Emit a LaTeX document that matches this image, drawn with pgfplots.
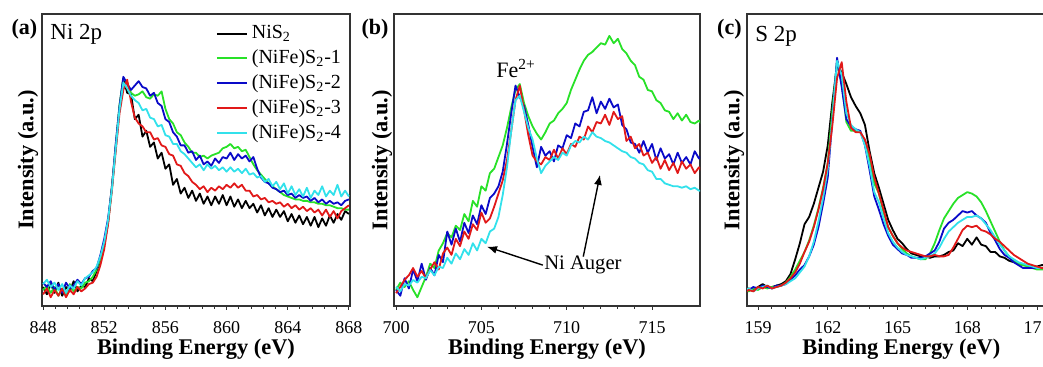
\documentclass[border=0pt]{standalone}
\usepackage{fontspec}
\setmainfont{Liberation Serif}
\usepackage{pgfplots}
\pgfplotsset{compat=1.18}
\usepackage{pgfplotstable}
\usetikzlibrary{arrows.meta}

\definecolor{cK}{RGB}{0,0,0}
\definecolor{cG}{RGB}{40,225,40}
\definecolor{cB}{RGB}{10,10,200}
\definecolor{cR}{RGB}{225,25,25}
\definecolor{cC}{RGB}{50,225,235}

% Panel (a): Ni 2p
\pgfplotstableread{
x k g b r c
848.00 6.5 5.5 8.0 4.0 7.5
848.25 4.0 7.0 6.5 6.0 9.0
848.50 7.5 4.5 8.5 3.0 6.5
848.75 4.5 6.5 5.5 5.5 8.0
849.00 8.0 3.5 7.5 3.5 5.5
849.25 3.5 6.0 4.5 6.0 7.5
849.50 6.5 4.0 8.0 3.0 4.5
849.75 5.0 7.5 6.0 5.5 7.0
850.00 8.5 5.0 7.0 4.0 6.0
850.25 5.0 6.5 9.0 6.5 8.5
850.50 7.0 6.0 7.5 5.0 7.0
850.75 6.5 8.0 9.5 6.0 9.5
851.00 9.5 8.5 10.0 7.5 10.5
851.25 8.5 10.0 12.0 8.0 11.5
851.50 12.0 12.5 13.0 10.0 13.5
851.75 15.5 16.0 17.5 14.0 17.0
852.00 21.0 21.5 23.0 19.5 22.0
852.25 28.5 29.0 30.0 28.0 29.5
852.50 41.0 40.0 40.5 39.5 40.0
852.75 54.0 55.0 55.5 53.0 54.0
853.00 68.0 69.0 68.5 66.0 67.5
853.25 78.0 78.0 78.5 74.0 76.5
853.50 73.0 76.5 76.0 77.5 74.5
853.75 72.5 73.0 74.0 70.0 72.0
854.00 64.0 72.0 75.5 64.5 70.5
854.25 65.5 72.5 77.0 62.5 69.5
854.50 58.0 73.5 75.0 61.5 67.0
854.75 60.0 71.5 74.5 59.5 67.5
855.00 54.5 71.0 72.0 59.5 64.5
855.25 56.0 72.5 73.0 57.0 64.0
855.50 50.5 72.0 69.5 57.5 61.5
855.75 52.5 73.5 68.5 55.0 62.0
856.00 47.0 67.5 64.0 54.5 58.5
856.25 48.5 64.0 63.0 52.0 58.0
856.50 41.5 62.5 59.5 51.5 55.5
856.75 43.5 59.5 58.0 48.5 55.5
857.00 38.5 58.5 55.0 48.0 53.0
857.25 40.5 56.0 55.0 45.5 52.0
857.50 37.0 54.5 52.5 44.5 50.5
857.75 39.5 52.5 53.0 42.5 49.0
858.00 36.0 52.5 50.0 41.5 47.5
858.25 38.5 51.0 51.5 40.0 48.5
858.50 35.0 51.5 48.5 41.0 46.5
858.75 37.5 50.5 49.5 39.0 48.5
859.00 34.5 51.5 48.0 40.5 47.0
859.25 37.5 52.0 50.5 39.5 48.0
859.50 35.0 52.5 49.0 41.0 46.5
859.75 38.0 54.0 51.0 40.0 47.5
860.00 34.5 54.5 50.5 41.5 46.0
860.25 37.5 55.5 52.5 40.5 47.5
860.50 34.0 54.0 50.0 42.0 46.0
860.75 36.5 54.5 52.0 40.5 47.0
861.00 33.5 53.0 50.5 41.5 45.5
861.25 36.0 53.5 51.5 39.5 47.0
861.50 33.5 51.0 49.5 39.5 45.0
861.75 35.0 48.5 51.0 37.5 45.5
862.00 32.0 46.5 47.0 38.0 44.0
862.25 34.5 45.0 44.0 36.5 44.5
862.50 31.0 43.5 42.5 37.0 42.5
862.75 33.5 42.0 42.0 35.5 43.5
863.00 30.5 41.0 40.5 36.0 41.0
863.25 33.0 40.0 40.0 35.0 42.5
863.50 30.5 39.0 39.0 35.5 40.0
863.75 32.5 38.0 39.5 34.0 42.0
864.00 29.0 37.5 38.0 35.0 38.5
864.25 31.5 37.0 38.5 33.5 41.0
864.50 28.5 36.5 37.0 34.5 38.0
864.75 31.0 36.5 38.0 33.0 40.0
865.00 28.0 36.0 37.0 34.0 37.5
865.25 30.5 36.0 37.5 32.5 40.5
865.50 27.5 35.5 36.0 33.5 37.0
865.75 30.5 35.5 37.0 32.0 39.5
866.00 27.0 35.0 35.5 33.0 38.0
866.25 30.0 35.0 36.5 31.0 41.0
866.50 27.5 34.5 35.0 33.0 37.5
866.75 31.0 34.5 36.0 30.5 39.5
867.00 28.5 34.0 35.0 32.5 38.0
867.25 31.5 33.5 35.5 30.0 41.5
867.50 29.5 33.5 34.5 32.5 37.5
867.75 32.5 33.0 36.0 33.5 39.5
868.00 31.5 33.0 36.5 34.5 37.5
}\dataA

% Panel (b): Fe 2p region
\pgfplotstableread{
x g b r c
700.00 5.5 5.5 4.4 6.6
700.25 8.0 3.5 6.5 5.0
700.50 6.5 9.5 9.0 7.5
700.75 8.5 6.0 10.5 7.0
701.00 5.5 12.5 13.0 8.9
701.25 3.0 8.5 10.0 8.0
701.50 6.5 14.5 12.0 10.0
701.75 10.0 9.0 9.5 9.5
702.00 14.5 13.0 12.5 12.3
702.25 13.0 10.5 15.0 10.5
702.50 19.0 17.5 12.5 13.5
702.75 21.5 15.0 18.0 13.0
703.00 25.0 25.5 20.0 16.5
703.25 23.5 21.0 17.5 14.5
703.50 27.5 26.5 23.0 18.0
703.75 26.0 22.0 20.5 16.0
704.00 31.5 28.5 25.5 19.5
704.25 29.0 25.0 23.0 17.5
704.50 36.0 31.0 28.0 21.5
704.75 34.0 28.0 26.0 19.0
705.00 41.0 34.5 32.0 23.0
705.25 39.5 31.5 28.5 21.5
705.50 45.5 37.0 30.0 25.5
705.75 47.0 38.5 34.0 26.5
706.00 51.0 41.0 38.5 30.5
706.25 55.0 46.0 43.0 38.0
706.50 61.0 55.5 50.0 47.5
706.75 68.0 66.0 60.0 60.0
707.00 74.0 75.5 70.5 70.5
707.25 76.0 71.5 75.5 72.0
707.50 69.5 68.5 67.0 66.5
707.75 65.0 62.0 58.5 61.0
708.00 61.5 54.5 51.5 57.0
708.25 59.0 47.5 49.5 50.5
708.50 57.0 54.5 48.5 45.5
708.75 59.5 51.5 51.0 48.0
709.00 62.5 53.0 50.0 49.5
709.25 63.5 49.5 53.5 51.0
709.50 66.0 55.0 50.5 50.0
709.75 67.5 54.0 54.0 52.5
710.00 69.5 58.5 52.0 51.5
710.25 74.0 57.5 55.5 55.0
710.50 77.5 62.5 54.5 56.5
710.75 81.0 61.5 58.0 56.0
711.00 84.0 66.5 57.0 58.0
711.25 86.0 67.0 61.5 57.0
711.50 87.0 71.5 59.5 59.5
711.75 88.5 66.0 63.0 58.0
712.00 90.0 70.0 62.5 57.5
712.25 89.5 67.5 65.5 56.5
712.50 92.5 71.0 62.0 56.0
712.75 90.0 68.0 66.5 55.0
713.00 91.5 69.0 64.0 54.0
713.25 88.0 62.0 65.0 53.0
713.50 86.5 60.5 56.5 52.5
713.75 84.0 56.0 58.0 51.0
714.00 82.5 55.5 54.0 50.5
714.25 78.5 52.5 55.5 49.0
714.50 77.5 56.5 51.5 48.5
714.75 74.0 52.5 52.5 46.5
715.00 73.5 55.5 49.0 46.0
715.25 70.5 50.0 51.0 43.5
715.50 69.5 54.0 47.0 43.5
715.75 67.0 50.5 50.0 42.0
716.00 66.5 52.0 46.5 41.5
716.25 64.0 48.5 49.0 41.0
716.50 66.0 52.5 45.5 41.0
716.75 63.5 49.0 49.5 40.5
717.00 65.5 51.0 47.0 41.0
717.25 63.0 48.5 48.5 40.0
717.50 62.5 53.0 45.5 40.5
717.75 63.5 50.5 47.5 39.5
718.00 61.5 52.0 45.5 39.5
}\dataB

% Panel (c): S 2p
\pgfplotstableread{
x k g b r c
158.4 5.0 5.5 6.0 4.5 5.5
158.6 6.0 5.0 5.5 5.5 6.0
158.8 5.5 6.0 6.5 5.0 5.0
159.0 6.5 5.5 6.0 6.5 6.0
159.2 7.5 6.5 7.0 6.0 6.5
159.4 6.5 6.0 6.5 7.0 7.0
159.6 6.5 6.5 6.0 6.0 6.0
159.8 7.0 6.5 7.0 6.5 6.5
160.0 7.5 7.0 7.0 7.0 7.0
160.2 8.5 8.0 7.5 8.0 7.5
160.4 11.0 10.0 9.0 9.5 8.5
160.6 16.0 12.5 10.5 11.5 9.5
160.8 21.5 15.5 12.5 14.5 11.5
161.0 28.0 18.5 14.0 18.5 13.5
161.2 30.5 22.5 17.0 22.0 17.0
161.4 35.0 27.5 21.0 27.0 22.0
161.6 40.5 33.5 27.0 33.0 29.0
161.8 46.0 40.5 35.0 40.0 37.0
162.0 55.0 49.0 44.0 49.0 47.0
162.2 70.0 67.0 64.0 62.0 64.0
162.4 82.5 84.0 85.0 78.0 84.0
162.6 80.0 76.0 75.0 83.5 79.0
162.8 76.0 63.0 64.0 70.0 66.0
163.0 71.5 60.0 61.5 61.0 62.0
163.2 68.5 60.0 60.5 59.5 60.5
163.4 66.0 59.5 60.0 59.5 59.5
163.6 62.0 56.5 55.0 57.0 55.0
163.8 53.0 50.5 46.5 52.0 48.0
164.0 45.5 42.0 37.5 44.0 39.0
164.2 40.5 38.5 33.0 38.5 35.5
164.4 35.0 32.0 28.0 33.0 30.0
164.6 29.5 27.0 24.0 27.0 25.0
164.8 26.0 24.0 21.0 24.0 22.0
165.0 23.0 21.5 19.5 21.5 20.0
165.2 21.5 19.5 18.0 20.0 18.5
165.4 19.5 18.0 17.5 19.0 17.5
165.6 18.0 17.0 16.5 18.5 17.0
165.8 17.5 16.5 16.5 18.0 16.5
166.0 17.0 16.0 16.5 17.5 16.0
166.2 17.0 16.0 17.0 17.0 16.5
166.4 16.5 18.0 18.0 17.0 17.0
166.6 17.0 21.5 19.0 17.5 18.0
166.8 17.0 26.0 22.0 17.0 20.0
167.0 17.5 30.0 26.5 17.0 23.0
167.2 18.5 32.5 28.5 17.5 25.5
167.4 19.0 35.0 29.5 20.0 27.0
167.6 21.5 37.0 31.0 23.0 28.5
167.8 20.5 38.0 32.5 26.0 29.5
168.0 23.0 39.0 32.0 27.5 30.5
168.2 21.0 38.5 32.5 27.0 30.5
168.4 23.5 37.5 31.0 27.5 31.0
168.6 21.0 35.5 30.0 26.0 30.0
168.8 20.5 32.5 28.5 25.5 28.0
169.0 18.5 29.0 25.0 24.5 26.0
169.2 18.5 25.5 22.5 23.0 23.5
169.4 17.0 22.0 19.5 22.0 21.0
169.6 16.5 19.0 17.5 20.5 19.0
169.8 15.5 17.0 16.5 19.0 17.0
170.0 15.0 15.5 15.0 17.5 16.0
170.2 14.5 14.5 14.0 16.5 15.0
170.4 14.0 14.0 13.0 15.5 14.5
170.6 14.0 13.5 13.0 14.5 14.0
170.8 13.5 13.0 13.0 14.0 13.5
171.0 13.5 12.5 13.0 13.5 13.0
171.2 14.0 12.5 13.0 13.0 13.0
171.4 14.0 12.5 13.0 13.0 13.0
171.6 13.5 12.5 13.0 13.0 13.0
171.8 13.5 12.5 13.0 13.0 13.0
}\dataC

\pgfplotsset{
  xps/.style={
    scale only axis, height=146pt, ymin=0, ymax=100, ytick=\empty,
    clip mode=individual,
    axis line style={black!80, line width=0.7pt},
    tick align=outside, xtick pos=bottom,
    minor x tick num=4,
    major tick length=2pt, minor tick length=1.5pt,
    every tick/.style={black!80, line width=0.5pt},
    tick label style={font=\fontsize{9}{10}\selectfont},
    /pgf/number format/assume math mode=true,
    xticklabel style={anchor=base, yshift=-12pt},
    xlabel={Binding Energy (eV)}, ylabel={Intensity (a.u.)},
    xlabel style={at={(axis description cs:0.5,0)}, anchor=base, yshift=-24.5pt, font=\bfseries\fontsize{11.2}{13}\selectfont},
    ylabel style={anchor=center, font=\bfseries\fontsize{11.2}{13}\selectfont},
    every axis plot/.append style={line width=0.9pt, line join=round},
  }
}

\begin{document}
\begin{tikzpicture}
\useasboundingbox (0,0) rectangle (521.5pt,183.5pt);
\clip (0,0) rectangle (521.5pt,183.5pt);

% (a)
\begin{axis}[xps, at={(21pt,30.5pt)}, anchor=south west, width=154pt,
  xmin=847.93, xmax=868.07, xtick={848,852,...,868},
  ylabel style={at={(axis description cs:-0.045,0.5)}},
  legend style={draw=none, fill=none, at={(axis description cs:0.985,0.975)}, anchor=north east,
    font=\fontsize{10}{11}\selectfont, row sep=0pt, inner sep=0pt},
  legend cell align=left,
  legend image code/.code={\draw[#1] (0pt,0pt) -- (15pt,0pt);}]
\addplot[cK] table[x=x,y=k]{\dataA}; \addlegendentry{NiS\textsubscript{2}}
\addplot[cG] table[x=x,y=g]{\dataA}; \addlegendentry{(NiFe)S\textsubscript{2}-1}
\addplot[cB] table[x=x,y=b]{\dataA}; \addlegendentry{(NiFe)S\textsubscript{2}-2}
\addplot[cR] table[x=x,y=r]{\dataA}; \addlegendentry{(NiFe)S\textsubscript{2}-3}
\addplot[cC] table[x=x,y=c]{\dataA}; \addlegendentry{(NiFe)S\textsubscript{2}-4}
\node[anchor=base west, inner sep=0pt, font=\fontsize{11.5}{13}\selectfont] at (axis description cs:0.026,0.911) {Ni 2p};
\node[font=\bfseries\fontsize{11}{13}\selectfont] at (axis description cs:-0.057,0.949) {(a)};
\end{axis}

% (b)
\begin{axis}[xps, at={(197pt,30.5pt)}, anchor=south west, width=153pt,
  xmin=699.88, xmax=717.81, xtick={700,705,710,715},
  ylabel style={at={(axis description cs:-0.039,0.5)}}]
\addplot[cG] table[x=x,y=g]{\dataB};
\addplot[cB] table[x=x,y=b]{\dataB};
\addplot[cR] table[x=x,y=r]{\dataB};
\addplot[cC] table[x=x,y=c]{\dataB};
\node[font=\fontsize{11}{13}\selectfont] at (axis cs:707.03,81.4) {Fe\textsuperscript{2+}};
\node[font=\fontsize{10.3}{12}\selectfont] at (axis cs:710.95,14.0) {Ni Auger};
\draw[-{Latex[length=5pt,width=4pt]}, line width=0.7pt] (axis cs:708.6,14.0) -- (axis cs:705.33,20.3);
\draw[-{Latex[length=5pt,width=4pt]}, line width=0.7pt] (axis cs:710.97,16.9) -- (axis cs:711.95,44.9);
\node[font=\bfseries\fontsize{11}{13}\selectfont] at (axis description cs:-0.062,0.949) {(b)};
\end{axis}

% (c)
\begin{axis}[xps, at={(373.5pt,30.5pt)}, anchor=south west, width=154.3pt,
  xmin=158.527, xmax=171.8, xtick={159,162,...,171},
  ylabel style={at={(axis description cs:-0.042,0.5)}}]
\addplot[cK] table[x=x,y=k]{\dataC};
\addplot[cG] table[x=x,y=g]{\dataC};
\addplot[cB] table[x=x,y=b]{\dataC};
\addplot[cC] table[x=x,y=c]{\dataC};
\addplot[cR] table[x=x,y=r]{\dataC};
\node[anchor=base west, inner sep=0pt, font=\fontsize{11.5}{13}\selectfont] at (axis description cs:0.026,0.905) {S 2p};
\node[font=\bfseries\fontsize{11}{13}\selectfont] at (axis description cs:-0.057,0.949) {(c)};
\end{axis}
\end{tikzpicture}
\end{document}
